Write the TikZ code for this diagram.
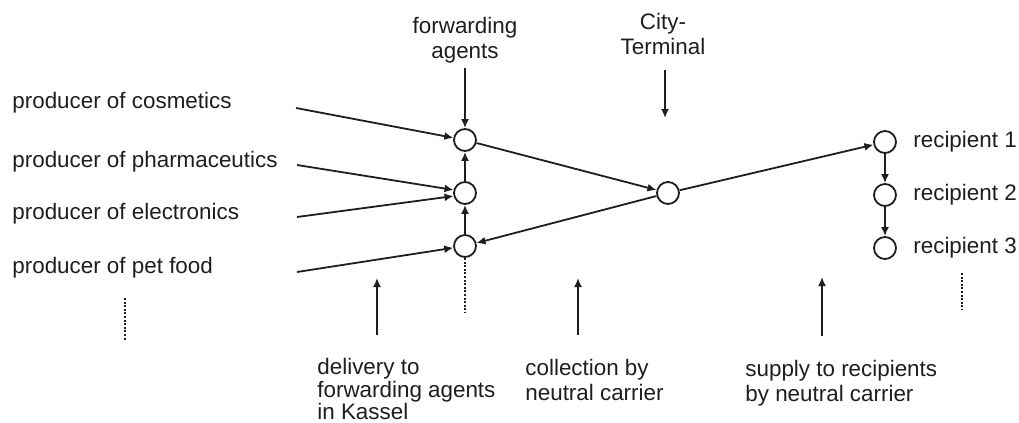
\documentclass[tikz,border=0pt]{standalone}
\usepackage{fontspec}
\setmainfont{Liberation Sans}
\usetikzlibrary{arrows.meta}
\definecolor{ink}{HTML}{1E1E1E}

\begin{document}
\begin{tikzpicture}[
    x=5pt, y=-5pt,
    every node/.style={font=\fontsize{11.2}{12.6}\selectfont, text=ink},
    hub/.style={
        circle,
        draw=ink,
        line width=0.9pt,
        minimum size=11pt,
        inner sep=0pt
    },
    note/.style={inner sep=0pt, align=left},
    arrow/.style={line width=0.9pt, color=ink, -{Latex[length=4.5pt,width=4pt]}},
    dots/.style={line width=1.2pt, color=ink, dash pattern=on 1pt off 0.8pt}
]
\useasboundingbox (0,0) rectangle (101.9,42.3);

% forwarding agents, city terminal, recipients
\node[hub] (f1) at (46.5,14.0) {};
\node[hub] (f2) at (46.5,19.3) {};
\node[hub] (f3) at (46.5,24.6) {};
\node[hub] (ct) at (66.8,19.3) {};
\node[hub] (r1) at (88.5,14.2) {};
\node[hub] (r2) at (88.5,19.5) {};
\node[hub] (r3) at (88.5,24.8) {};

% producers
\node[note, anchor=base west] (p1) at (1.2,10.8) {producer of cosmetics};
\node[note, anchor=base west] (p2) at (1.2,16.7) {producer of pharmaceutics};
\node[note, anchor=base west] (p3) at (1.2,21.9) {producer of electronics};
\node[note, anchor=base west] (p4) at (1.2,27.3) {producer of pet food};

\coordinate (p1out) at (29.6,10.8);
\coordinate (p2out) at (29.7,16.5);
\coordinate (p3out) at (29.7,21.7);
\coordinate (p4out) at (29.7,27.2);

\draw[arrow] (p1out) -- (f1);
\draw[arrow] (p2out) -- (f2.165);
\draw[arrow] (p3out) -- (f2.195);
\draw[arrow] (p4out) -- (f3);

\draw[arrow, line width=1.2pt] (f3) -- (f2);
\draw[arrow, line width=1.2pt] (f2) -- (f1);
\draw[arrow] (f1) -- (ct);
\draw[arrow] (ct) -- (f3);
\draw[arrow] (ct) -- (r1);
\draw[arrow, line width=1.2pt] (r1) -- (r2);
\draw[arrow, line width=1.2pt] (r2) -- (r3);

% recipients
\node[note, anchor=base west] (t1) at (91.3,14.8) {recipient 1};
\node[note, anchor=base west] (t2) at (91.3,20.0) {recipient 2};
\node[note, anchor=base west] (t3) at (91.3,25.3) {recipient 3};

% top labels
\node[note, align=center, anchor=north] (fa) at (46.5,1.7) {forwarding\\agents};
\node[note, align=center, anchor=north] (cy) at (66.3,1.3) {City-\\Terminal};

\coordinate (fa0) at (46.5,6.8);
\coordinate (cy0) at (66.5,7.0);
\coordinate (cy1) at (66.5,11.8);
\draw[arrow] (fa0) -- (f1);
\draw[arrow] (cy0) -- (cy1);

% bottom labels
\node[note, anchor=north west, font=\fontsize{11.2}{11.2}\selectfont] (dl) at (31.7,35.8)
    {delivery to\\forwarding agents\\in Kassel};
\node[note, anchor=north west] (co) at (52.5,35.9) {collection by\\neutral carrier};
\node[note, anchor=north west] (su) at (74.5,36.0) {supply to recipients\\by neutral carrier};

\coordinate (dl0) at (37.7,33.5);
\coordinate (dl1) at (37.7,27.8);
\coordinate (co0) at (57.8,33.5);
\coordinate (co1) at (57.8,27.8);
\coordinate (su0) at (82.2,33.6);
\coordinate (su1) at (82.2,27.7);
\draw[arrow] (dl0) -- (dl1);
\draw[arrow] (co0) -- (co1);
\draw[arrow] (su0) -- (su1);

% more to come
\coordinate (pd0) at (12.5,29.8);
\coordinate (pd1) at (12.5,34.0);
\coordinate (fd1) at (46.5,31.2);
\coordinate (rd0) at (96.2,27.3);
\coordinate (rd1) at (96.2,31.0);
\draw[dots] (pd0) -- (pd1);
\draw[dots] (f3.south) -- (fd1);
\draw[dots] (rd0) -- (rd1);

\end{tikzpicture}
\end{document}
